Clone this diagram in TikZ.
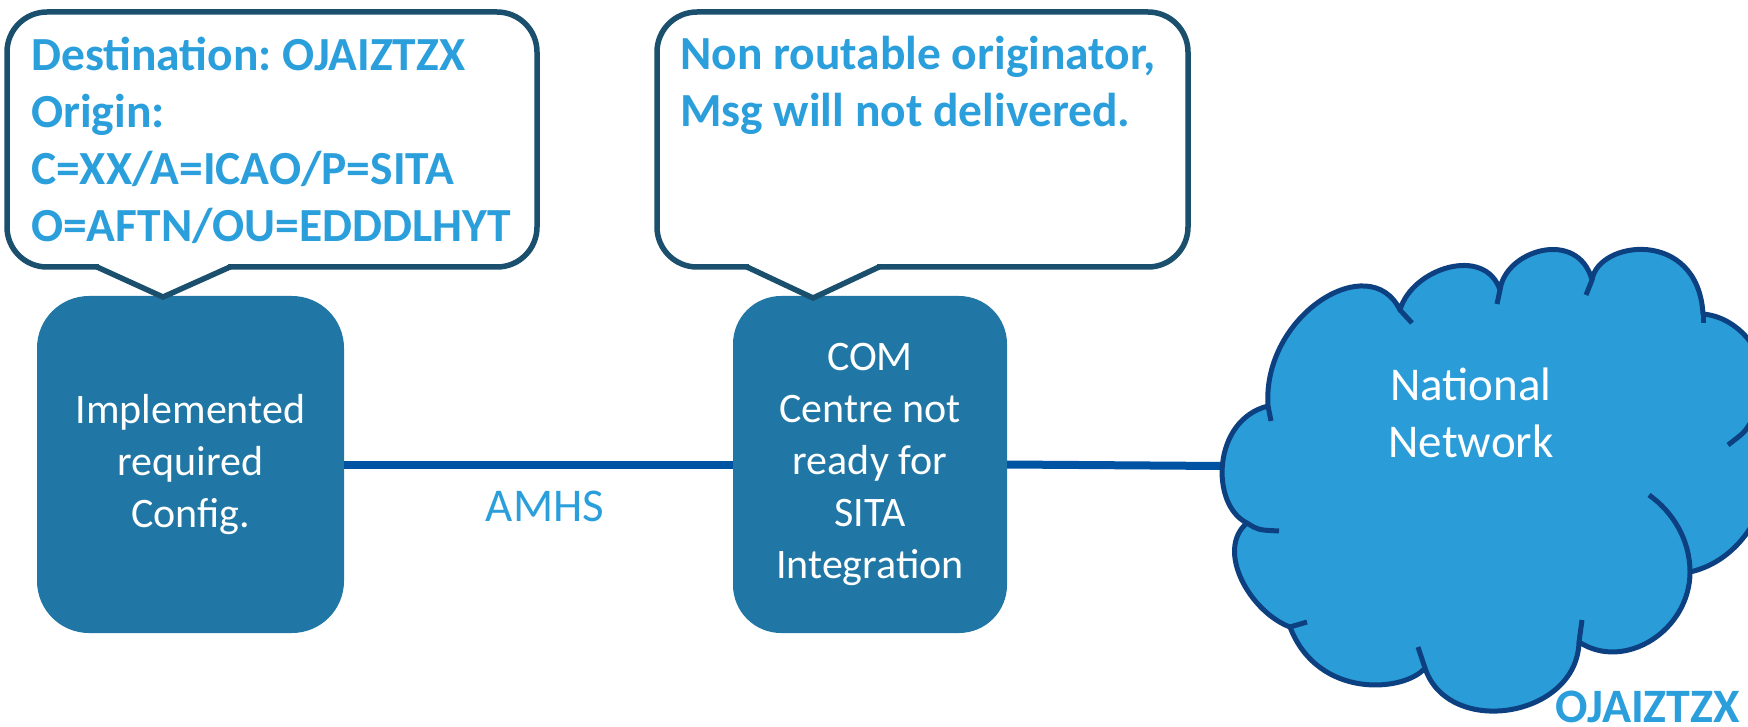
\documentclass[tikz,border=0pt]{standalone}
\usepackage{fontspec}
\setmainfont{Carlito}
\definecolor{calloutc}{HTML}{1B4F6E}
\definecolor{txtblue}{HTML}{2B9FDB}
\definecolor{boxc}{HTML}{2077A5}
\definecolor{connc}{HTML}{0052A3}
\definecolor{cloudfill}{HTML}{2A9DD9}
\definecolor{cloudline}{HTML}{0D4080}
\begin{document}
\frenchspacing
\begin{tikzpicture}[x=1pt,y=-1pt,
  callout/.style={draw=calloutc, line width=5.5pt, fill=white},
  pointer/.style={draw=calloutc, line width=5.5pt, line join=miter, line cap=round},
  ctext/.style={text=txtblue, inner sep=0pt, align=left, font=\fontsize{47.5}{57}\selectfont\bfseries},
  box/.style={fill=boxc, text=white, inner sep=0pt, align=center, font=\fontsize{42}{52}\selectfont, minimum height=337pt},
  conn/.style={draw=connc, line width=8pt},
  lbl/.style={text=txtblue, inner sep=0pt, font=\fontsize{47}{57}\selectfont},
  cloudshape/.style={fill=cloudfill, draw=cloudline, line width=5pt, line join=round},
  curl/.style={draw=cloudline, line width=5pt, line cap=butt}]
\useasboundingbox (0,0) rectangle (1748,727);

% boxes and connectors
\node[box, minimum width=307pt, rounded corners=52pt] (b1) at (190.5,464.5) {Implemented\\required\\Config.};
\node[box, minimum width=274pt, rounded corners=48pt] (b2) at (870,464.5) {COM\\Centre not\\ready for\\SITA\\Integration};
\coordinate (cloudL) at (1222,466);
\draw[conn] (b1.east) -- (b2.west);
\draw[conn] (b2.east) -- (cloudL);

% callout 1
\draw[callout, rounded corners=40pt] (7,12) rectangle (537,267);
\fill[white] (99,261) -- (228,261) -- (228,268) -- (163,296) -- (99,268) -- cycle;
\draw[pointer] (97,267) -- (163,297) -- (230,267);
\node[ctext, anchor=base west] (t1) at (31,242) {Destination: OJAIZTZX\\Origin:\\C=XX/A=ICAO/P=SITA\\O=AFTN/OU=EDDDLHYT};

% callout 2
\draw[callout, rounded corners=40pt] (657,12) rectangle (1188,267);
\fill[white] (749,261) -- (877,261) -- (877,268) -- (813,297) -- (749,268) -- cycle;
\draw[pointer] (747,267) -- (813,298) -- (879,267);
\node[ctext, anchor=base west] (t2) at (680,127) {Non routable originator,\\Msg will not delivered.};

% AMHS label
\node[lbl, anchor=base] (amhs) at (545,521) {AMHS};

% cloud
\path[cloudshape] (1268,406)
  .. controls (1262,315) and (1370,248) .. (1400,310)
  .. controls (1412,268) and (1485,245) .. (1500,290)
  .. controls (1505,250) and (1578,228) .. (1592,280)
  .. controls (1598,240) and (1698,228) .. (1703,314)
  .. controls (1750,318) and (1785,380) .. (1752,420)
  .. controls (1790,450) and (1765,555) .. (1690,572)
  .. controls (1690,630) and (1625,672) .. (1579,642)
  .. controls (1577,718) and (1448,738) .. (1425,668)
  .. controls (1405,692) and (1318,700) .. (1290,627)
  .. controls (1250,612) and (1215,550) .. (1247,523)
  .. controls (1210,505) and (1212,420) .. (1268,406) -- cycle;
% inner curls
\draw[curl] (1268,406) -- (1271,421);
\draw[curl] (1400,310) -- (1412,323);
\draw[curl] (1500,290) -- (1497,304);
\draw[curl] (1592,280) -- (1586,295);
\draw[curl] (1703,314) -- (1703,323);
\draw[curl] (1752,420) .. controls (1745,432) .. (1728,445);
\draw[curl] (1649,495) .. controls (1673,512) and (1690,540) .. (1690,572);
\draw[curl] (1582,620) -- (1579,642);
\draw[curl] (1418,647) -- (1425,668);
\draw[curl] (1290,627) -- (1307,622);
\draw[curl] (1247,523) .. controls (1258,530) .. (1279,531);

\node[text=white, inner sep=0pt, align=center, font=\fontsize{47}{57}\selectfont, anchor=base] (nat) at (1471,457) {National\\Network};
\node[lbl, font=\fontsize{48}{57}\selectfont\bfseries, anchor=base west] (oj) at (1555,722) {OJAIZTZX};
\end{tikzpicture}
\end{document}
